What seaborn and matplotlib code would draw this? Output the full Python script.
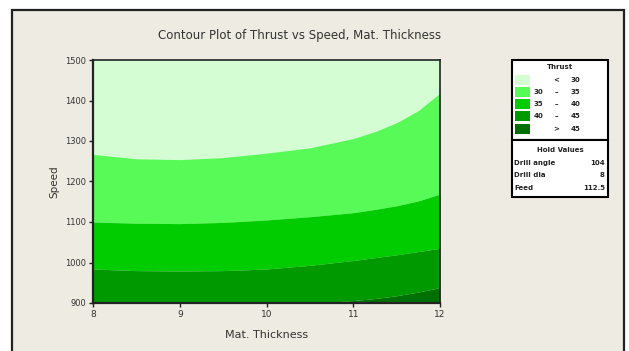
import matplotlib
matplotlib.use("Agg")
import matplotlib.pyplot as plt
from matplotlib.patches import Rectangle
import numpy as np
import pandas as pd
import seaborn as sns

# Mat. Thickness positions where the contour boundaries are given
thickness = [8.0, 8.5, 9.0, 9.5, 10.0, 10.5, 11.0, 11.25, 11.5, 11.75, 12.0]
# Speed at which Thrust crosses each contour level
speed_30 = [1267, 1256, 1254, 1259, 1270, 1283, 1306, 1323, 1345, 1375, 1418]
speed_35 = [1100, 1097, 1096, 1099, 1105, 1113, 1123, 1131, 1140, 1152, 1169]
speed_40 = [984, 980, 979, 980, 984, 993, 1005, 1012, 1019, 1027, 1035]
speed_45 = [860, 860, 860, 870, 880, 898, 906, 911, 918, 927, 938]

band_labels = ["<  30", "30  –  35", "35  –  40", "40  –  45", ">  45"]
band_colors = ["#d4fdd4", "#57fa57", "#00cc00", "#009a00", "#007000"]

hold_names = ["Drill angle", "Drill dia", "Feed"]
hold_values = ["104", "8", "112.5"]

x_ticks = [8, 9, 10, 11, 12]
y_ticks = [900, 1000, 1100, 1200, 1300, 1400, 1500]

sns.set_theme(style="ticks")
plt.rcParams["font.family"] = ["DejaVu Sans"]

bg = "#eeebe2"
fig = plt.figure(figsize=(6.29, 3.51), dpi=100, facecolor="white")
W, H = 629, 351

def fx(px):
    return px / W

def fy(py):
    return 1 - py / H

# beige panel with its dark frame, kept behind the axes
fig.patches.append(Rectangle((fx(12), fy(400)), fx(612), 390 / H, transform=fig.transFigure,
                             facecolor=bg, edgecolor="#222222", linewidth=1.6, zorder=-5))

ax = fig.add_axes([fx(93), fy(303), fx(347), 243 / H])
ax.set_zorder(1)
ax.set_facecolor(band_colors[0])

df = pd.DataFrame({"thickness": thickness, "s30": speed_30, "s35": speed_35,
                   "s40": speed_40, "s45": speed_45})
top = 1500
bottom = 900
bounds = [np.full(len(df), top), df["s30"], df["s35"], df["s40"], df["s45"],
          np.full(len(df), bottom - 50)]
for i, col in enumerate(band_colors):
    ax.fill_between(df["thickness"], bounds[i + 1], bounds[i], color=col,
                    linewidth=0, zorder=1)

ax.set_xlim(8, 12)
ax.set_ylim(900, 1500)
ax.set_xticks(x_ticks)
ax.set_yticks(y_ticks)
ax.set_xticklabels([str(v) for v in x_ticks], fontsize=6.5)
ax.set_yticklabels([str(v) for v in y_ticks], fontsize=6)
ax.tick_params(direction="out", length=3, width=1, colors="#222222", pad=2)
for lbl in ax.get_xticklabels() + ax.get_yticklabels():
    lbl.set_color("#333333")
for sp in ax.spines.values():
    sp.set_visible(True)
    sp.set_color("#222222")
    sp.set_linewidth(1.2)
ax.spines["left"].set_linewidth(1.6)
ax.spines["bottom"].set_linewidth(1.6)
ax.set_xlabel("Mat. Thickness", fontsize=8, color="#333333", labelpad=8)
ax.set_ylabel("Speed", fontsize=7.5, color="#333333", labelpad=4)

fig.text(fx(300), fy(35), "Contour Plot of Thrust vs Speed, Mat. Thickness",
         ha="center", va="center", fontsize=8.5, color="#333333")

# legend boxes
fig.patches.append(Rectangle((fx(512), fy(140)), fx(96), 80 / H, transform=fig.transFigure,
                             facecolor="white", edgecolor="black", linewidth=1.5, zorder=2))
fig.patches.append(Rectangle((fx(512), fy(197)), fx(96), 57 / H, transform=fig.transFigure,
                             facecolor="white", edgecolor="black", linewidth=1.5, zorder=2))

txt = dict(fontsize=5, color="#222222", fontweight="bold", zorder=3, va="center")
fig.text(fx(560), fy(67), "Thrust", ha="center", **txt)
row_y = [80, 92, 104, 116, 129]
for yv, col, lab in zip(row_y, band_colors, band_labels):
    fig.patches.append(Rectangle((fx(515), fy(yv + 5)), fx(15), 10 / H, transform=fig.transFigure,
                                 facecolor=col, edgecolor="none", zorder=3))
    parts = lab.split()
    if len(parts) == 2:
        fig.text(fx(556), fy(yv), parts[0], ha="center", **txt)
        fig.text(fx(571), fy(yv), parts[1], ha="left", **txt)
    else:
        fig.text(fx(543), fy(yv), parts[0], ha="right", **txt)
        fig.text(fx(556), fy(yv), parts[1], ha="center", **txt)
        fig.text(fx(571), fy(yv), parts[2], ha="left", **txt)

fig.text(fx(560), fy(150), "Hold Values", ha="center", **txt)
for yv, name, val in zip([163, 175, 188], hold_names, hold_values):
    fig.text(fx(514), fy(yv), name, ha="left", **txt)
    fig.text(fx(605), fy(yv), val, ha="right", **txt)

fig.savefig("out.png", dpi=100, facecolor="white")
